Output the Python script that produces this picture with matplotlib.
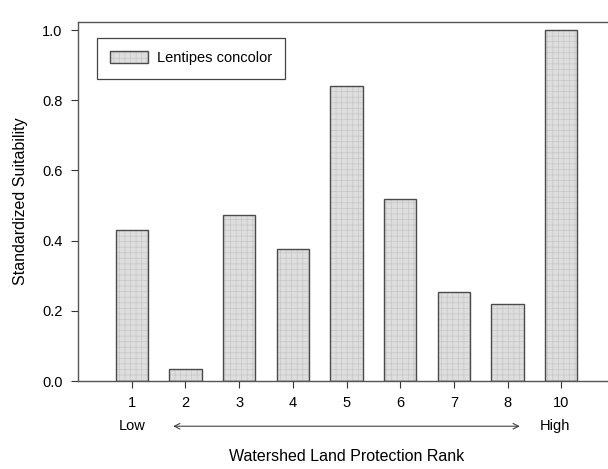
import numpy as np
from matplotlib import pyplot as plt
import matplotlib.transforms as mtransforms
from matplotlib.legend_handler import HandlerTuple

plt.rcParams['font.family'] = ['Liberation Sans', 'DejaVu Sans']
plt.rcParams['hatch.linewidth'] = 0.5

ranks = ['1', '2', '3', '4', '5', '6', '7', '8', '10']
suitability = [0.43, 0.034, 0.472, 0.376, 0.84, 0.52, 0.255, 0.22, 1.0]

fig = plt.figure(figsize=(6.08, 4.69), dpi=100)
# right spine lies just outside the picture, as in the original
ax = fig.add_axes([78/608, 88/469, 537/608, 359/469])

x = np.arange(1, len(ranks) + 1)
# fine grey texture, then the dark outline on top
fill = ax.bar(x, suitability, width=0.6, color='#dedede', edgecolor='#c6c6c6',
              linewidth=0, hatch='+++')
outline = ax.bar(x, suitability, width=0.6, color='none', edgecolor='#4a4a4a',
                 linewidth=1.0)

ax.set_xlim(0, 10)
ax.set_ylim(0, 1.023)
ax.set_xticks(x)
ax.set_xticklabels(ranks)
ax.set_yticks([0.0, 0.2, 0.4, 0.6, 0.8, 1.0])
ax.set_yticklabels(['0.0', '0.2', '0.4', '0.6', '0.8', '1.0'])
ax.tick_params(direction='out', length=5, width=0.8, labelsize=10.5, color='#333333', pad=6)
for s in ax.spines.values():
    s.set_color('#555555')
    s.set_linewidth(1.0)

ax.set_ylabel('Standardized Suitability', fontsize=11.5, labelpad=10)
ax.set_xlabel('Watershed Land Protection Rank', fontsize=11.5, labelpad=28)

# Low -> High arrow under the ticks
trans = mtransforms.blended_transform_factory(ax.transData, ax.transAxes)
ax.annotate('', xy=(8.28, -0.126), xytext=(1.72, -0.126), xycoords=trans, textcoords=trans,
            arrowprops=dict(arrowstyle='<->', color='#444444', lw=0.8), annotation_clip=False)
ax.text(1.0, -0.126, 'Low', transform=trans, ha='center', va='center', fontsize=10.5)
ax.text(8.88, -0.126, 'High', transform=trans, ha='center', va='center', fontsize=10.5)

leg = ax.legend([(fill[0], outline[0])], ['Lentipes concolor'],
                handler_map={tuple: HandlerTuple(ndivide=1)},
                loc='upper left', bbox_to_anchor=(0.022, 0.975), fontsize=10.5,
                fancybox=False, edgecolor='#444444', framealpha=1,
                borderpad=0.9, handlelength=2.6, handleheight=0.9, handletextpad=0.6)
leg.get_frame().set_linewidth(0.9)

plt.savefig('out.png', dpi=100)
